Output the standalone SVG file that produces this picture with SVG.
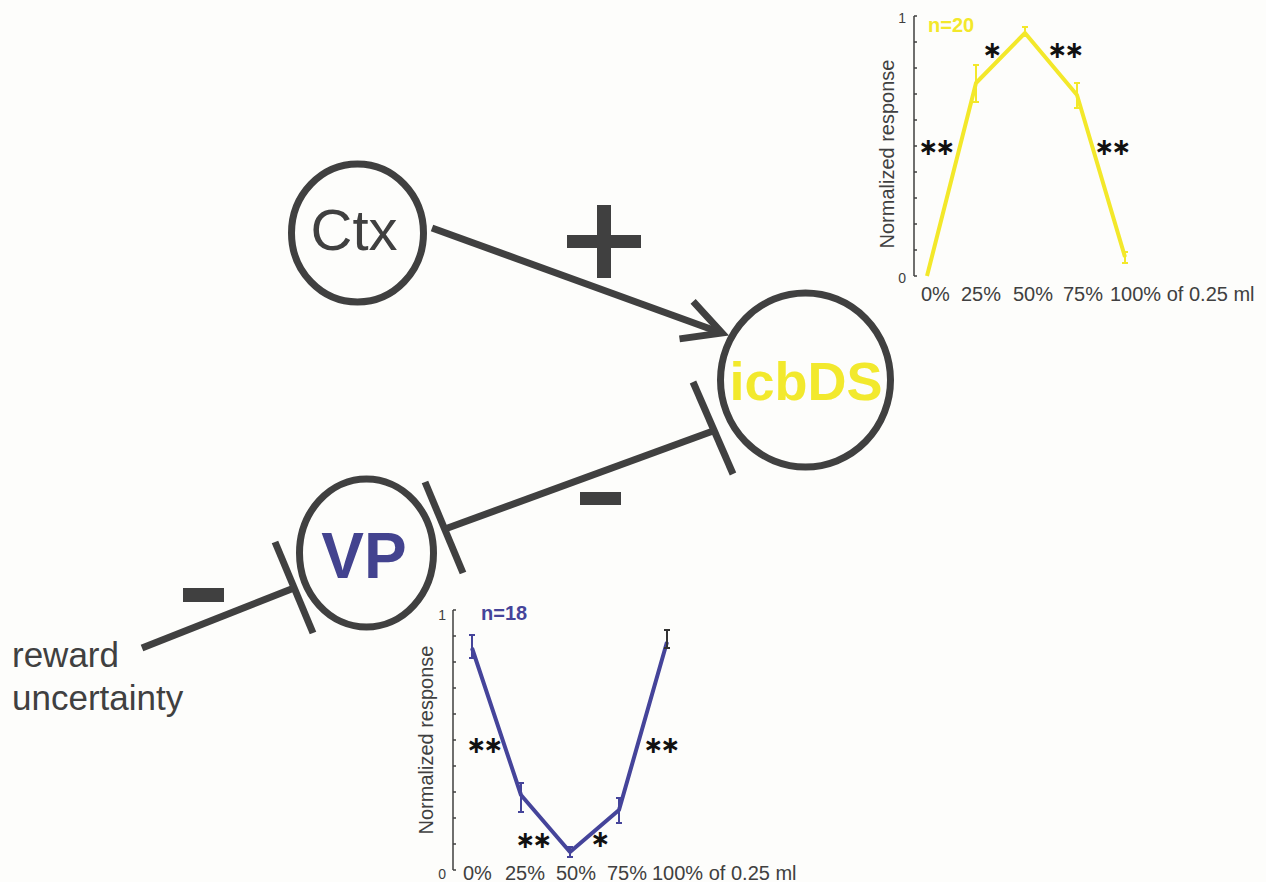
<svg xmlns="http://www.w3.org/2000/svg" width="1266" height="882" viewBox="0 0 1266 882">
<style>
.node{fill:none;stroke:#404040;stroke-width:7}
.conn{fill:none;stroke:#404040;stroke-width:7}
.sign{fill:#404040}
.lbl{font-family:"Liberation Sans",Arial,sans-serif;fill:#404040}
.axis{fill:none;stroke:#404040;stroke-width:1.5}
.tick{font-family:"Liberation Sans",Arial,sans-serif;font-size:14px;fill:#404040;text-anchor:end}
.xl{font-family:"Liberation Sans",Arial,sans-serif;font-size:20px;fill:#404040}
.yl{font-family:"Liberation Sans",Arial,sans-serif;font-size:20px;fill:#404040;text-anchor:middle}
.star{font-family:"DejaVu Sans",sans-serif;font-size:24px;font-weight:bold;fill:#111;letter-spacing:-3px}
.yline{fill:none;stroke:#F3E82A;stroke-width:4;stroke-linejoin:round}
.pline{fill:none;stroke:#45449A;stroke-width:4;stroke-linejoin:round}
</style>
<rect width="1266" height="882" fill="#FDFDFB"/>

<g id="connectors">
  <line class="conn" x1="432" y1="228" x2="716" y2="331"/>
  <polyline class="conn" points="679.5,338.9 722,333 693.1,301.3" stroke-miterlimit="10"/>
  <rect class="sign" x="567" y="235" width="74" height="13"/>
  <rect class="sign" x="597" y="205" width="14" height="73"/>
  <line class="conn" x1="445" y1="529" x2="713" y2="431"/>
  <line class="conn" x1="693" y1="382" x2="733" y2="474"/>
  <line class="conn" x1="425" y1="482" x2="463" y2="573"/>
  <rect class="sign" x="580" y="492" width="41" height="13"/>
  <line class="conn" x1="142" y1="648" x2="294" y2="588"/>
  <line class="conn" x1="275" y1="542" x2="313" y2="633"/>
  <rect class="sign" x="183" y="588" width="41" height="14"/>
</g>

<g id="ctx">
  <ellipse class="node" cx="357.5" cy="233" rx="66" ry="69"/>
  <text class="lbl" x="354" y="250" font-size="58" text-anchor="middle">Ctx</text>
</g>

<g id="icbDS">
  <ellipse class="node" cx="805.5" cy="380" rx="85" ry="87"/>
  <text x="806" y="400" font-family="Liberation Sans,Arial,sans-serif" font-size="54" font-weight="bold" fill="#F2E92D" text-anchor="middle">icbDS</text>
</g>

<g id="vp">
  <ellipse class="node" cx="366.5" cy="553" rx="67" ry="74"/>
  <text x="364" y="578" font-family="Liberation Sans,Arial,sans-serif" font-size="64" font-weight="bold" fill="#43438F" text-anchor="middle">VP</text>
</g>

<g id="reward">
  <text class="lbl" x="12" y="667" font-size="35">reward<tspan x="12" y="710">uncertainty</tspan></text>
</g>

<g id="chart-icbDS">
  <path class="axis" d="M914,16 V276 M914,16 h3 M914,42 h3 M914,68 h3 M914,94 h3 M914,120 h3 M914,146 h3 M914,172 h3 M914,198 h3 M914,224 h3 M914,250 h3 M914,276 h3"/>
  <text class="tick" x="906" y="23">1</text>
  <text class="tick" x="906" y="283">0</text>
  <text class="yl" transform="translate(894,154) rotate(-90)">Normalized response</text>
  <text x="928" y="32" font-family="Liberation Sans,Arial,sans-serif" font-size="20" font-weight="bold" fill="#F3E82A">n=20</text>
  <polyline class="yline" points="927,276 976,83 1025,33 1077,95 1125,257"/>
  <path fill="none" stroke="#F3E82A" stroke-width="2" d="M976,65 V102 M973,65 h6 M973,102 h6 M1025,27 V37 M1022,27 h6 M1077,83 V108 M1074,83 h6 M1074,108 h6 M1125,252 V263 M1122,252 h6 M1122,263 h6"/>
  <text class="star" x="918" y="155">∗∗</text>
  <text class="star" x="982" y="58">∗</text>
  <text class="star" x="1047" y="58">∗∗</text>
  <text class="star" x="1094" y="155">∗∗</text>
  <text class="xl" x="921" y="301">0%</text>
  <text class="xl" x="961" y="301">25%</text>
  <text class="xl" x="1013" y="301">50%</text>
  <text class="xl" x="1063" y="301">75%</text>
  <text class="xl" x="1110" y="301">100% of 0.25 ml</text>
</g>

<g id="chart-VP">
  <path class="axis" d="M453,610 V870 M453,610 h3 M453,636 h3 M453,662 h3 M453,688 h3 M453,714 h3 M453,740 h3 M453,766 h3 M453,792 h3 M453,818 h3 M453,844 h3 M453,870 h3"/>
  <text class="tick" x="446" y="620">1</text>
  <text class="tick" x="446" y="879">0</text>
  <text class="yl" transform="translate(433,740) rotate(-90)">Normalized response</text>
  <text x="481" y="620" font-family="Liberation Sans,Arial,sans-serif" font-size="20" font-weight="bold" fill="#45449A">n=18</text>
  <polyline class="pline" points="472,648 521,795 570,852 619,810 667,642"/>
  <path fill="none" stroke="#45449A" stroke-width="2" d="M472,635 V658 M469,635 h6 M469,658 h6 M521,783 V812 M518,783 h6 M518,812 h6 M570,847 V857 M567,847 h6 M567,857 h6 M619,798 V823 M616,798 h6 M616,823 h6"/>
  <path fill="none" stroke="#333" stroke-width="2" d="M667,630 V648 M664,630 h6 M664,648 h6"/>
  <text class="star" x="466" y="753">∗∗</text>
  <text class="star" x="515" y="848">∗∗</text>
  <text class="star" x="590" y="847">∗</text>
  <text class="star" x="643" y="753">∗∗</text>
  <text class="xl" x="463" y="880">0%</text>
  <text class="xl" x="505" y="880">25%</text>
  <text class="xl" x="556" y="880">50%</text>
  <text class="xl" x="607" y="880">75%</text>
  <text class="xl" x="652" y="880">100% of 0.25 ml</text>
</g>
</svg>
